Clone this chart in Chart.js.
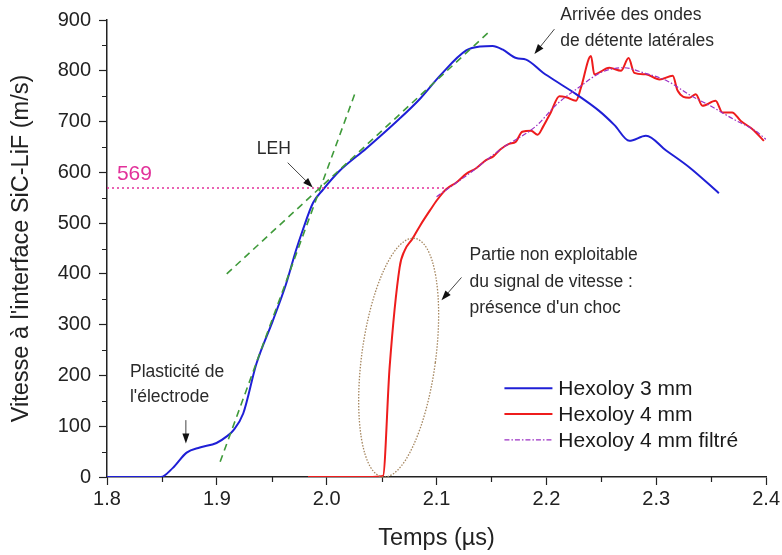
<!DOCTYPE html>
<html>
<head>
<meta charset="utf-8">
<script src="https://cdn.jsdelivr.net/npm/chart.js@4/dist/chart.umd.min.js"></script>
<style>
  html, body { margin: 0; padding: 0; background: #fff; }
</style>
</head>
<body>
<canvas id="vitesse" width="782" height="555"></canvas>
<script>
// Hexoloy 3 mm
const blueT = [1.80, 1.849, 1.860, 1.8725, 1.8845, 1.8997, 1.909, 1.915, 1.924, 1.936, 1.951, 1.963,
  1.972, 1.978, 1.9876, 1.9967, 2.0118, 2.036, 2.066, 2.085, 2.103, 2.127, 2.140, 2.151, 2.160,
  2.1725, 2.1815, 2.197, 2.212, 2.227, 2.248, 2.262, 2.2755, 2.2906, 2.309, 2.330, 2.357];
const blueV = [0, 0, 18, 48, 58, 67, 80, 92, 125, 223, 308, 380,
  446, 485, 540, 566, 603, 647, 705, 745, 790, 840, 848, 849, 842,
  825, 822, 796, 775, 754, 721, 693, 662, 672, 643, 610, 559];

// Hexoloy 4 mm (signal brut)
const redT = [1.983, 2.037, 2.0512, 2.0573, 2.0664, 2.0709, 2.078, 2.085, 2.094, 2.101, 2.109, 2.118,
  2.127, 2.136, 2.145, 2.152, 2.158, 2.166, 2.172, 2.178, 2.186, 2.192, 2.197, 2.204, 2.2118,
  2.218, 2.227, 2.2315, 2.2406, 2.2436, 2.2573, 2.268, 2.2748, 2.280, 2.2906, 2.303, 2.315,
  2.3194, 2.330, 2.336, 2.342, 2.354, 2.3603, 2.369, 2.377, 2.3876, 2.398];
const redV = [0, 0, 2, 217, 413, 446, 469, 495, 525, 547, 567, 580,
  597, 608, 624, 632, 645, 656, 660, 680, 682, 674, 690, 718, 750,
  748, 741, 767, 829, 793, 806, 800, 825, 796, 793, 783, 790,
  761, 747, 754, 731, 741, 718, 718, 701, 685, 662];

// Hexoloy 4 mm filtré
const filtT = [2.100, 2.130, 2.160, 2.190, 2.210, 2.230, 2.250, 2.270, 2.290, 2.310, 2.330, 2.350, 2.370, 2.390, 2.400];
const filtV = [552, 598, 648, 690, 735, 768, 797, 806, 795, 780, 753, 730, 705, 682, 665];

// tangentes et niveau LEH
const tangentA_T = [1.909, 2.147];
const tangentA_V = [400, 875];
const tangentB_T = [1.903, 2.026];
const tangentB_V = [30, 757];
const lehT = [1.80, 2.107];
const lehV = [569, 569];

const xTicks = [1.8, 1.9, 2.0, 2.1, 2.2, 2.3, 2.4];
const yTicks = [0, 100, 200, 300, 400, 500, 600, 700, 800, 900];

const FONT = '"Liberation Sans", Arial, sans-serif';
const BLUE = '#1f1fd6';
const RED = '#ee1c1c';
const FILT = '#9b2fc4';
const GREEN = '#3f9a3a';
const PINK = '#e2319a';

function pts(xs, ys) {
  return xs.map((x, i) => ({ x: x, y: ys[i] }));
}

function arrow(c, x1, y1, x2, y2) {
  const a = Math.atan2(y2 - y1, x2 - x1);
  c.save();
  c.strokeStyle = '#444';
  c.lineWidth = 1;
  c.beginPath();
  c.moveTo(x1, y1);
  c.lineTo(x2 - 6 * Math.cos(a), y2 - 6 * Math.sin(a));
  c.stroke();
  c.fillStyle = '#111';
  c.beginPath();
  c.moveTo(x2, y2);
  c.lineTo(x2 - 10 * Math.cos(a) + 3.5 * Math.sin(a), y2 - 10 * Math.sin(a) - 3.5 * Math.cos(a));
  c.lineTo(x2 - 10 * Math.cos(a) - 3.5 * Math.sin(a), y2 - 10 * Math.sin(a) + 3.5 * Math.cos(a));
  c.closePath();
  c.fill();
  c.restore();
}

// petits traits intermédiaires, textes, flèches, ellipse et légende
const extras = {
  id: 'extras',
  afterDraw(chart) {
    const c = chart.ctx;
    const xs = chart.scales.x, ys = chart.scales.y;
    const X = v => xs.getPixelForValue(v);
    const Y = v => ys.getPixelForValue(v);
    const area = chart.chartArea;

    c.save();
    c.strokeStyle = '#222';
    c.lineWidth = 1.2;
    c.beginPath();
    for (let i = 0; i < xTicks.length - 1; i++) {
      const px = Math.round(X((xTicks[i] + xTicks[i + 1]) / 2)) + 0.5;
      c.moveTo(px, area.bottom);
      c.lineTo(px, area.bottom + 5);
    }
    for (let i = 0; i < yTicks.length - 1; i++) {
      const py = Math.round(Y((yTicks[i] + yTicks[i + 1]) / 2)) + 0.5;
      c.moveTo(area.left - 5, py);
      c.lineTo(area.left, py);
    }
    c.stroke();

    // ellipse autour de la montée brutale
    const bx = X(2.051), by = Y(0), tx = X(2.080), ty = Y(470);
    const cx = (bx + tx) / 2, cy = (by + ty) / 2;
    const half = Math.hypot(tx - bx, ty - by) / 2;
    c.strokeStyle = '#a5865f';
    c.lineWidth = 1.3;
    c.setLineDash([1.5, 1.5]);
    c.beginPath();
    c.ellipse(cx, cy, 37, half, Math.atan2(tx - bx, by - ty), 0, Math.PI * 2);
    c.stroke();
    c.setLineDash([]);

    // valeur LEH
    c.fillStyle = PINK;
    c.font = '21px ' + FONT;
    c.textBaseline = 'middle';
    c.textAlign = 'left';
    c.fillText('569', X(1.809), Y(569) - 14);

    c.fillStyle = '#2a2a2a';
    c.font = '17.5px ' + FONT;
    c.fillText('Arrivée des ondes', X(2.2127), Y(910));
    c.fillText('de détente latérales', X(2.2127), Y(859));
    c.fillText('Plasticité de', X(1.8209), Y(206));
    c.fillText("l'électrode", X(1.8209), Y(157));
    c.fillText('Partie non exploitable', X(2.130), Y(436));
    c.fillText('du signal de vitesse :', X(2.130), Y(383));
    c.fillText("présence d'un choc", X(2.130), Y(332));
    c.textAlign = 'center';
    c.fillText('LEH', X(1.9518), Y(645));

    arrow(c, X(2.2073), Y(882), X(2.1891), Y(833));
    arrow(c, X(1.9645), Y(619), X(1.9873), Y(570));
    arrow(c, X(1.8718), Y(112), X(1.8718), Y(66));
    arrow(c, X(2.1227), Y(393), X(2.1045), Y(348));

    // légende
    const rows = [
      { label: 'Hexoloy 3 mm', color: BLUE, dash: [], w: 2 },
      { label: 'Hexoloy 4 mm', color: RED, dash: [], w: 2 },
      { label: 'Hexoloy 4 mm filtré', color: FILT, dash: [5, 2, 1.5, 2], w: 1.2 }
    ];
    const legY = [175, 124, 73];
    c.font = '21px ' + FONT;
    c.textAlign = 'left';
    rows.forEach((r, i) => {
      const py = Y(legY[i]);
      c.strokeStyle = r.color;
      c.lineWidth = r.w;
      c.setLineDash(r.dash);
      c.beginPath();
      c.moveTo(X(2.1618), py);
      c.lineTo(X(2.2055), py);
      c.stroke();
      c.setLineDash([]);
      c.fillStyle = '#1a1a1a';
      c.fillText(r.label, X(2.2109), py + 1);
    });
    c.restore();
  }
};

const ctx = document.getElementById('vitesse');
new Chart(ctx, {
  type: 'line',
  data: {
    datasets: [
      { data: pts(tangentA_T, tangentA_V), borderColor: GREEN, borderWidth: 1.6, borderDash: [7, 5] },
      { data: pts(tangentB_T, tangentB_V), borderColor: GREEN, borderWidth: 1.6, borderDash: [7, 5] },
      { data: pts(lehT, lehV), borderColor: PINK, borderWidth: 1.6, borderDash: [2, 3] },
      { data: pts(filtT, filtV), borderColor: FILT, borderWidth: 1.2, borderDash: [5, 2, 1.5, 2], cubicInterpolationMode: 'monotone' },
      { data: pts(blueT, blueV), borderColor: BLUE, borderWidth: 2, cubicInterpolationMode: 'monotone' },
      { data: pts(redT, redV), borderColor: RED, borderWidth: 2, cubicInterpolationMode: 'monotone' }
    ]
  },
  options: {
    responsive: false,
    animation: false,
    layout: { padding: { left: 0, right: 15, top: 19, bottom: 0 } },
    elements: { point: { radius: 0 } },
    plugins: { legend: { display: false }, tooltip: { enabled: false } },
    scales: {
      x: {
        type: 'linear',
        min: 1.8,
        max: 2.4,
        afterFit: s => { s.height = 78; },
        afterBuildTicks: s => { s.ticks = xTicks.map(v => ({ value: v })); },
        grid: { drawOnChartArea: false, tickLength: 8, color: '#222', tickWidth: 1.2 },
        border: { color: '#222', width: 1.5 },
        ticks: { color: '#222', font: { family: FONT, size: 20 }, padding: 2, maxRotation: 0,
                 callback: v => v.toFixed(1) },
        title: { display: true, text: 'Temps (µs)', color: '#222', font: { family: FONT, size: 23.5 },
                 padding: { top: 0, bottom: 2 } }
      },
      y: {
        min: 0,
        max: 900,
        afterFit: s => { s.width = 107; },
        afterBuildTicks: s => { s.ticks = yTicks.map(v => ({ value: v })); },
        grid: { drawOnChartArea: false, tickLength: 8, color: '#222', tickWidth: 1.2 },
        border: { color: '#222', width: 1.5 },
        ticks: { color: '#222', font: { family: FONT, size: 20 }, padding: 8 },
        title: { display: true, text: "Vitesse à l'interface SiC-LiF (m/s)", color: '#222',
                 font: { family: FONT, size: 23.5 }, padding: { top: 7, bottom: 0 } }
      }
    }
  },
  plugins: [extras]
});
</script>
</body>
</html>
